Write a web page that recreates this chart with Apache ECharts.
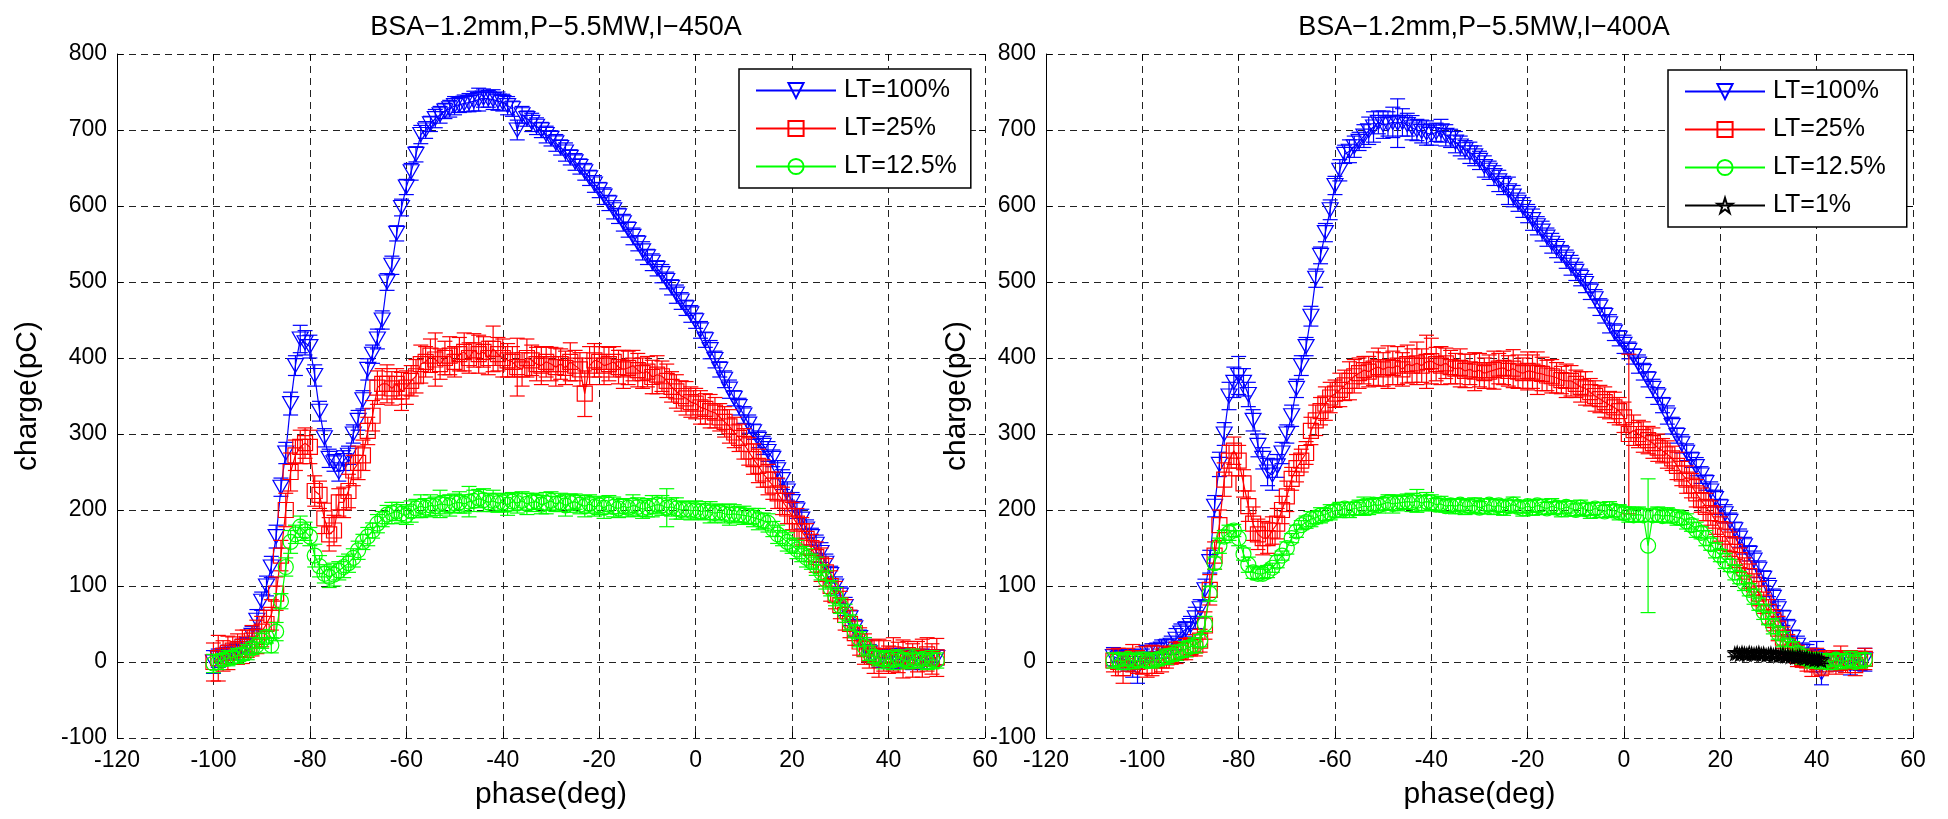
<!DOCTYPE html>
<html><head><meta charset="utf-8">
<script src="https://cdn.jsdelivr.net/npm/echarts@6/dist/echarts.min.js"></script>
<style>html,body{margin:0;padding:0;background:#fff}#c{width:1948px;height:819px}</style>
</head><body><div id="c"></div>
<script>
function seq(a, b, s) { const r = []; for (let v = a; v <= b + 1e-9; v += s) r.push(Math.round(v * 10) / 10); return r; }

// ---------- data ----------
const titleL = 'BSA\u22121.2mm,P\u22125.5MW,I\u2212450A';
const titleR = 'BSA\u22121.2mm,P\u22125.5MW,I\u2212400A';
const legendNames = ['LT=100%', 'LT=25%', 'LT=12.5%', 'LT=1%'];
const xTicks = [-120, 60, 20];
const yTicks = [-100, 800, 100];

const phaseL = seq(-100, 50, 1);
const phaseR = seq(-106, 50, 1);
const phaseBlack = seq(23, 41, 0.5);

const blueL = [0,5,8,10,12,14,18,22,35,55,
80,100,125,165,230,275,340,390,425,420,
415,377,330,295,268,262,250,265,272,300,
318,345,385,405,425,450,500,522,564,598,
625,645,668,694,700,708,715,720,725,728,
732,733,735,736,738,740,742,741,740,738,
736,732,728,700,720,715,710,705,700,694,
689,683,677,671,664,658,652,645,637,629,
621,613,604,595,587,578,569,560,551,541,
533,526,518,511,502,493,484,475,466,458,
449,437,424,411,398,385,372,359,347,336,
325,313,303,293,285,277,268,253,240,225,
211,200,188,175,165,155,144,130,115,100,
88,73,58,45,32,20,12,8,5,6,
4,8,3,5,6,2,4,7,3,5,
6];
const blueLErr = [15,12,10,12,10,11,12,10,12,14,
12,13,14,15,12,14,15,13,18,16,
15,14,13,12,12,11,12,13,12,12,
13,12,14,12,13,12,11,12,10,11,
10,11,10,12,11,10,12,11,10,11,
12,10,11,12,13,15,12,11,13,12,
11,12,10,13,11,10,12,11,10,11,
10,11,10,12,10,11,10,11,10,11,
10,11,10,12,10,11,10,11,10,12,
10,11,10,12,11,10,12,11,10,11,
10,11,10,12,11,10,11,12,10,11,
11,12,10,11,12,13,11,12,13,12,
12,11,13,12,11,12,13,12,11,12,
11,12,10,11,10,12,11,10,12,11,
12,10,11,13,10,12,11,10,12,11,
10];
const redL = [0,5,8,12,15,17,20,24,28,33,
40,50,62,90,140,200,250,272,283,288,
283,225,220,189,168,173,210,210,225,252,
262,272,304,324,361,366,366,360,366,356,
361,370,376,392,395,403,398,392,400,403,
395,405,408,400,410,405,408,400,412,405,
400,397,395,388,385,400,397,392,390,395,
392,388,392,387,395,390,385,353,390,397,
395,390,392,395,388,385,387,390,384,380,
382,375,378,376,370,362,356,350,347,342,
340,335,333,330,328,322,316,310,302,295,
287,277,267,258,248,240,232,222,212,202,
192,182,172,162,150,138,128,118,100,88,
75,62,50,38,27,17,10,7,5,8,
3,10,6,4,9,2,7,5,10,4,
6];
const redLErr = [25,30,20,22,18,20,22,18,20,22,
20,18,20,22,20,22,25,20,22,20,
22,20,18,20,22,20,18,20,22,20,
22,20,18,20,22,20,25,22,20,25,
22,20,22,25,20,22,35,20,22,25,
20,22,25,20,22,25,20,22,30,22,
25,22,20,38,22,25,20,22,25,20,
22,25,20,22,25,20,22,30,25,22,
20,25,22,20,22,25,22,20,22,20,
20,22,25,20,22,20,22,20,22,20,
20,22,20,22,20,18,20,22,20,18,
20,18,20,22,18,20,18,20,18,20,
18,20,18,20,18,20,22,18,20,18,
18,20,18,16,18,20,18,22,25,20,
18,22,20,25,18,22,20,25,22,20,
25];
const greenL = [-2,0,3,5,6,8,10,13,18,22,
28,33,22,40,80,125,158,168,178,172,
165,140,126,116,112,115,120,125,130,137,
147,158,165,173,182,188,194,196,198,195,
193,198,202,205,203,206,205,208,207,206,
209,210,208,211,212,215,213,210,212,209,
210,207,211,209,212,208,210,211,207,209,
212,208,210,206,209,211,207,205,208,204,
206,203,207,204,202,205,203,206,204,201,
203,205,207,206,203,204,202,200,201,199,
200,198,199,197,196,197,195,194,195,194,
193,192,190,188,186,183,175,168,163,158,
153,148,142,137,132,126,118,108,97,86,
74,64,52,40,30,20,12,7,5,3,
4,2,6,3,1,5,2,4,0,3,
2];
const greenLErr = [12,10,8,10,8,10,8,10,8,10,
10,8,10,12,10,12,15,12,14,12,
12,15,14,12,14,15,12,14,12,12,
12,10,12,10,12,10,12,14,12,12,
12,14,12,15,12,14,12,18,12,14,
12,14,12,20,14,12,15,12,14,12,
12,14,12,13,12,14,12,10,12,14,
12,10,12,14,12,10,12,14,12,12,
12,14,12,13,12,10,12,14,12,12,
12,14,12,13,25,12,14,12,10,12,
12,10,12,14,12,10,12,14,12,10,
12,10,12,14,10,12,10,12,10,12,
10,12,10,12,10,12,10,12,10,12,
10,12,10,8,10,12,10,8,10,12,
10,12,10,8,10,12,10,8,10,12,
10];

const blueR = [7,5,4,2,-2,-8,5,12,12,15,
17,20,22,30,38,43,48,58,70,95,
132,205,260,300,350,368,377,368,352,318,
285,268,250,246,258,275,300,324,360,390,
415,455,505,535,565,595,627,647,668,672,
678,685,692,699,704,710,707,708,710,709,
710,707,703,700,698,696,694,697,699,693,
689,684,679,674,670,666,660,652,647,640,
633,627,620,613,605,598,590,582,574,567,
559,551,544,537,530,522,514,506,498,488,
478,467,456,445,434,426,418,410,402,392,
382,372,360,350,338,325,311,298,287,276,
266,257,246,236,225,215,204,195,185,174,
163,153,143,134,122,110,98,85,70,58,
45,32,22,14,9,6,7,-14,3,2,
0,5,2,-3,4,1,3];
const blueRErr = [12,10,12,14,18,20,12,10,12,10,
12,10,12,14,12,10,12,14,12,14,
15,14,16,15,18,20,25,18,16,14,
15,14,18,20,15,14,12,14,12,13,
12,13,12,11,12,13,12,14,12,15,
14,12,15,18,20,15,18,16,20,32,
18,15,16,14,15,16,14,12,15,14,
12,14,13,12,14,13,12,14,12,13,
14,12,18,14,12,13,12,14,12,13,
12,13,12,11,12,13,12,11,12,11,
12,11,10,12,11,10,12,11,10,12,
11,10,12,11,10,12,11,10,12,11,
10,12,11,10,12,11,10,12,11,10,
12,11,10,12,11,10,12,11,12,10,
11,10,12,11,14,12,20,16,12,10,
12,10,12,14,10,12,15];
const redR = [2,0,-8,3,5,0,2,-5,2,3,
2,6,9,12,15,17,20,22,28,48,
95,140,180,240,265,278,265,235,205,182,
168,163,163,173,182,200,218,241,255,265,
275,304,318,330,340,348,353,358,364,370,
376,380,384,382,386,388,385,388,387,390,
385,392,390,393,390,395,396,392,390,393,
388,386,387,383,385,382,384,380,382,384,
386,387,383,386,382,380,383,382,380,379,
377,376,374,371,370,370,366,362,360,355,
350,346,342,338,335,330,322,300,305,300,
296,292,288,282,278,273,268,258,248,240,
232,222,213,204,196,186,175,165,155,145,
134,123,113,102,90,78,66,55,44,32,
22,14,8,5,2,-3,4,-6,1,3,
-2,5,0,3,-4,2,4];
const redRErr = [15,18,20,15,18,15,18,15,20,18,
15,14,12,14,12,14,12,14,15,18,
20,18,20,22,20,18,20,18,20,22,
20,22,20,18,20,18,20,15,18,15,
15,18,20,18,22,20,18,22,20,25,
22,20,18,20,22,25,22,28,22,25,
22,25,22,28,22,35,30,22,25,20,
22,20,25,22,20,25,22,20,22,25,
20,22,20,25,22,20,25,22,28,22,
20,22,20,18,22,20,18,20,22,18,
20,18,20,18,20,18,20,105,20,18,
20,18,20,18,16,18,16,18,16,18,
16,18,16,18,16,18,16,18,16,18,
16,14,16,14,16,14,16,14,16,14,
14,12,14,12,14,16,14,12,14,12,
14,16,14,12,14,12,14];
const greenR = [2,3,0,4,1,2,3,1,2,3,
5,7,9,12,14,17,20,22,28,50,
90,130,153,165,170,173,163,142,128,118,
116,116,119,124,132,140,150,163,172,180,
184,188,190,193,194,197,199,200,202,200,
202,203,205,204,207,206,208,210,208,209,
210,211,210,212,209,211,210,207,208,205,
206,205,207,204,205,206,203,205,207,204,
206,203,205,207,204,202,205,203,206,204,
202,205,203,201,204,202,200,203,201,199,
202,200,198,201,199,197,196,194,193,194,
193,153,193,194,192,193,192,190,189,185,
180,174,170,163,155,147,140,133,127,118,
111,104,95,86,76,66,57,47,38,30,
22,17,12,7,4,2,3,1,2,0,
3,1,2,4,0,2,3];
const greenRErr = [10,8,10,8,10,8,10,8,10,8,
8,10,8,10,8,10,8,10,8,10,
10,8,10,8,10,8,10,8,10,8,
8,6,8,6,8,6,8,6,8,6,
8,10,8,10,8,10,8,10,8,10,
8,10,12,10,8,10,8,10,12,10,
8,10,12,15,10,12,10,8,10,8,
8,10,8,10,8,10,8,10,8,10,
8,10,8,10,8,10,8,10,8,10,
8,10,8,10,8,10,8,10,8,10,
8,10,8,10,8,10,8,10,8,10,
8,88,8,10,8,10,8,10,8,10,
8,10,8,10,8,10,8,10,8,10,
8,10,8,10,8,10,8,10,8,10,
8,10,8,10,8,10,8,10,8,10,
8,10,8,10,8,10,8];
const blackR = [11,12,10,12,11,10,12,11,10,11,
12,10,11,9,10,11,9,10,8,9,
10,8,9,7,8,6,7,8,6,5,
6,4,5,3,4,3,2];
const blackRErr = [4,3,4,5,3,4,3,4,5,3,
4,3,4,3,5,4,3,4,3,4,
3,4,3,4,3,4,3,4,3,4,
3,4,3,4,3,3,4];

// ---------- style ----------
const FONT = '"Liberation Sans", Arial, Helvetica, sans-serif';
const C_BLUE = '#0000ff', C_RED = '#ff0000', C_GREEN = '#00ff00', C_BLACK = '#000000';
const SYM_TRI = 'path://M0,0L100,0L50,90Z';
const SYM_STAR = 'path://M100,0L122.45,69.1L195.1,69.1L136.3,111.8L158.8,180.9L100,138.2L41.2,180.9L63.7,111.8L4.9,69.1L77.55,69.1Z';
const LW = 1.2;
const grids = [
  { left: 117, top: 54, width: 868, height: 684 },
  { left: 1046, top: 54, width: 867, height: 684 }
];

function lineSeries(name, gi, xs, ys, color, symbol, size, z) {
  return {
    type: 'line', name, xAxisIndex: gi * 2, yAxisIndex: gi * 2,
    data: xs.map((x, i) => [x, ys[i]]),
    symbol, symbolSize: size, showSymbol: true, showAllSymbol: true,
    lineStyle: { color, width: LW },
    itemStyle: { color: 'rgba(0,0,0,0)', borderColor: color, borderWidth: LW },
    emphasis: { disabled: true }, animation: false, z, silent: true
  };
}
function errSeries(gi, xs, ys, es, color, z) {
  return {
    type: 'custom', xAxisIndex: gi * 2, yAxisIndex: gi * 2,
    data: xs.map((x, i) => [x, ys[i] - es[i], ys[i] + es[i]]),
    encode: { x: 0, y: [1, 2] },
    renderItem(params, api) {
      const x = api.value(0);
      const lo = api.coord([x, api.value(1)]);
      const hi = api.coord([x, api.value(2)]);
      const w = 7.5;
      const st = { stroke: color, lineWidth: LW, fill: null };
      return { type: 'group', children: [
        { type: 'line', shape: { x1: lo[0], y1: lo[1], x2: hi[0], y2: hi[1] }, style: st },
        { type: 'line', shape: { x1: lo[0] - w, y1: lo[1], x2: lo[0] + w, y2: lo[1] }, style: st },
        { type: 'line', shape: { x1: hi[0] - w, y1: hi[1], x2: hi[0] + w, y2: hi[1] }, style: st }
      ] };
    },
    silent: true, animation: false, z
  };
}

function xAxes(gi) {
  const base = { type: 'value', gridIndex: gi, min: xTicks[0], max: xTicks[1], interval: xTicks[2] };
  return [
    Object.assign({}, base, {
      position: 'bottom',
      name: 'phase(deg)', nameLocation: 'middle', nameGap: 42,
      nameTextStyle: { fontFamily: FONT, fontSize: 30, color: '#000' },
      axisLine: { show: false, onZero: false },
      axisTick: { show: true, inside: true, length: 6, lineStyle: { color: '#000' } },
      axisLabel: { fontFamily: FONT, fontSize: 23, color: '#000', margin: 11 },
      splitLine: { show: true, lineStyle: { color: '#222', width: 1, type: [7, 5] } }
    }),
    Object.assign({}, base, {
      position: 'top', axisLine: { show: false, onZero: false },
      axisTick: { show: true, inside: true, length: 6, lineStyle: { color: '#000' } },
      axisLabel: { show: false }, splitLine: { show: false }
    })
  ];
}
function yAxes(gi) {
  const base = { type: 'value', gridIndex: gi, min: yTicks[0], max: yTicks[1], interval: yTicks[2] };
  return [
    Object.assign({}, base, {
      position: 'left',
      name: 'charge(pC)', nameLocation: 'middle', nameGap: 74,
      nameTextStyle: { fontFamily: FONT, fontSize: 30, color: '#000' },
      axisLine: { show: true, onZero: false, lineStyle: { color: '#000', width: 1 } },
      axisTick: { show: true, inside: true, length: 6, lineStyle: { color: '#000' } },
      axisLabel: { fontFamily: FONT, fontSize: 23, color: '#000', margin: 10 },
      splitLine: { show: true, lineStyle: { color: '#222', width: 1, type: [7, 5] } }
    }),
    Object.assign({}, base, {
      position: 'right', axisLine: { show: false, onZero: false },
      axisTick: { show: true, inside: true, length: 6, lineStyle: { color: '#000' } },
      axisLabel: { show: false }, splitLine: { show: false }
    })
  ];
}
function legend(names, left, top) {
  return {
    show: true, orient: 'vertical', left, top,
    data: names.map(n => ({ name: n })),
    itemWidth: 80, itemHeight: 19, itemGap: 13,
    padding: [9, 14, 9, 16],
    borderColor: '#000', borderWidth: 1.5, backgroundColor: '#fff',
    textStyle: { fontFamily: FONT, fontSize: 25, color: '#000', lineHeight: 25, padding: [0, 0, 0, 3] },
    selectedMode: false,
    inactiveColor: '#000'
  };
}

const series = [
  errSeries(0, phaseL, blueL, blueLErr, C_BLUE, 2),
  lineSeries(legendNames[0], 0, phaseL, blueL, C_BLUE, SYM_TRI, [16, 14], 2),
  errSeries(0, phaseL, redL, redLErr, C_RED, 3),
  lineSeries(legendNames[1], 0, phaseL, redL, C_RED, 'rect', 15, 3),
  errSeries(0, phaseL, greenL, greenLErr, C_GREEN, 4),
  lineSeries(legendNames[2], 0, phaseL, greenL, C_GREEN, 'circle', 15, 4),

  errSeries(1, phaseR, blueR, blueRErr, C_BLUE, 2),
  lineSeries(legendNames[0] + ' ', 1, phaseR, blueR, C_BLUE, SYM_TRI, [16, 14], 2),
  errSeries(1, phaseR, redR, redRErr, C_RED, 3),
  lineSeries(legendNames[1] + ' ', 1, phaseR, redR, C_RED, 'rect', 15, 3),
  errSeries(1, phaseR, greenR, greenRErr, C_GREEN, 4),
  lineSeries(legendNames[2] + ' ', 1, phaseR, greenR, C_GREEN, 'circle', 15, 4),
  errSeries(1, phaseBlack, blackR, blackRErr, C_BLACK, 5),
  lineSeries(legendNames[3] + ' ', 1, phaseBlack, blackR, C_BLACK, SYM_STAR, 13, 5)
];

const chart = echarts.init(document.getElementById('c'), null, { renderer: 'canvas' });
chart.setOption({
  backgroundColor: '#fff',
  animation: false,
  textStyle: { fontFamily: FONT },
  title: [
    { text: titleL, left: 551, top: 9, textAlign: 'center',
      textStyle: { fontFamily: FONT, fontSize: 27, fontWeight: 'normal', color: '#000' } },
    { text: titleR, left: 1479, top: 9, textAlign: 'center',
      textStyle: { fontFamily: FONT, fontSize: 27, fontWeight: 'normal', color: '#000' } }
  ],
  grid: grids.map(g => Object.assign({ show: false, containLabel: false, outerBoundsMode: 'none' }, g)),
  xAxis: [...xAxes(0), ...xAxes(1)],
  yAxis: [...yAxes(0), ...yAxes(1)],
  legend: [
    legend(legendNames.slice(0, 3), 739, 69),
    legend(legendNames.map(n => n + ' '), 1668, 70)
  ],
  tooltip: { show: false },
  series
});
</script>
</body></html>
